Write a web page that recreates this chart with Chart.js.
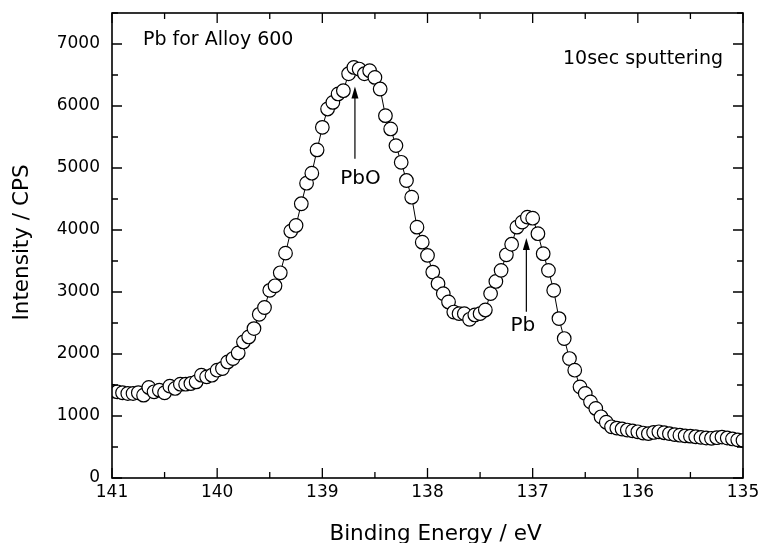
<!DOCTYPE html>
<html>
<head>
<meta charset="utf-8">
<script src="https://cdn.jsdelivr.net/npm/chart.js@4/dist/chart.umd.min.js"></script>
<style>
  html, body { margin: 0; padding: 0; background: #fff; }
  #wrap { width: 760px; height: 543px; }
</style>
</head>
<body>
<div id="wrap"><canvas id="c" width="760" height="543"></canvas></div>
<script>
// Binding energy (eV), 0.05 eV step, 141.00 -> 135.00
const energies = [
  141.00,140.95,140.90,140.85,140.80,140.75,140.70,140.65,140.60,140.55,
  140.50,140.45,140.40,140.35,140.30,140.25,140.20,140.15,140.10,140.05,
  140.00,139.95,139.90,139.85,139.80,139.75,139.70,139.65,139.60,139.55,
  139.50,139.45,139.40,139.35,139.30,139.25,139.20,139.15,139.10,139.05,
  139.00,138.95,138.90,138.85,138.80,138.75,138.70,138.65,138.60,138.55,
  138.50,138.45,138.40,138.35,138.30,138.25,138.20,138.15,138.10,138.05,
  138.00,137.95,137.90,137.85,137.80,137.75,137.70,137.65,137.60,137.55,
  137.50,137.45,137.40,137.35,137.30,137.25,137.20,137.15,137.10,137.05,
  137.00,136.95,136.90,136.85,136.80,136.75,136.70,136.65,136.60,136.55,
  136.50,136.45,136.40,136.35,136.30,136.25,136.20,136.15,136.10,136.05,
  136.00,135.95,135.90,135.85,135.80,135.75,135.70,135.65,135.60,135.55,
  135.50,135.45,135.40,135.35,135.30,135.25,135.20,135.15,135.10,135.05,
  135.00
];
// Intensity (CPS)
const intensity = [
  1400,1390,1375,1363,1363,1375,1336,1460,1390,1417,
  1375,1481,1444,1513,1513,1524,1550,1658,1631,1658,
  1739,1766,1872,1927,2017,2194,2275,2410,2640,2750,
  3027,3100,3310,3627,3982,4073,4423,4755,4916,5292,
  5656,5952,6058,6194,6247,6520,6622,6596,6520,6569,
  6461,6274,5844,5630,5361,5092,4798,4529,4046,3804,
  3590,3321,3135,2974,2839,2677,2651,2651,2560,2630,
  2651,2710,2974,3170,3349,3600,3770,4046,4127,4207,
  4190,3940,3618,3349,3027,2571,2249,1927,1739,1470,
  1364,1228,1122,987,900,826,805,790,773,760,
  745,725,715,735,745,730,715,700,690,680,
  675,665,655,645,640,650,660,645,630,615,
  605
];
const xTickValues = [141, 140, 139, 138, 137, 136, 135];
const yTickValues = [0, 1000, 2000, 3000, 4000, 5000, 6000, 7000];

const titleText = 'Pb for Alloy 600';
const conditionText = '10sec sputtering';
const xTitle = 'Binding Energy / eV';
const yTitle = 'Intensity / CPS';

// peak markers: label, arrow energy, arrow base/tip intensity, label position (data units)
const peakLabels = ['PbO', 'Pb'];
const peakArrowE = [138.69, 137.06];
const peakArrowFrom = [5150, 2680];
const peakArrowTo = [6316, 3870];
const peakLabelE = [138.637, 137.094];
const peakLabelY = [4745, 2367];

const FONT = "'DejaVu Sans', 'Liberation Sans', Arial, sans-serif";

const framePlugin = {
  id: 'framePlugin',
  afterDatasetsDraw(chart) {
    const { ctx, chartArea: a, scales } = chart;
    const xs = scales.x, ys = scales.y;
    ctx.save();
    // frame
    ctx.strokeStyle = '#000';
    ctx.lineWidth = 1.6;
    ctx.strokeRect(a.left, a.top, a.right - a.left, a.bottom - a.top);
    // inward ticks on all four sides
    ctx.lineWidth = 1.3;
    ctx.beginPath();
    const xt = xs.ticks.map(t => t.value).sort((p, q) => p - q);
    const yt = ys.ticks.map(t => t.value).sort((p, q) => p - q);
    const major = 10, minor = 6;
    const xMarks = [];
    xt.forEach((v, i) => {
      xMarks.push([v, major]);
      if (i < xt.length - 1) xMarks.push([(v + xt[i + 1]) / 2, minor]);
    });
    const yMarks = [];
    yt.forEach((v, i) => {
      yMarks.push([v, major]);
      if (i < yt.length - 1) yMarks.push([(v + yt[i + 1]) / 2, minor]);
    });
    const lastY = yt[yt.length - 1];
    const step = yt[1] - yt[0];
    if (lastY + step / 2 <= ys.max + 1e-6) yMarks.push([lastY + step / 2, minor]);
    xMarks.forEach(([v, len]) => {
      const px = xs.getPixelForValue(v);
      ctx.moveTo(px, a.bottom); ctx.lineTo(px, a.bottom - len);
      ctx.moveTo(px, a.top); ctx.lineTo(px, a.top + len);
    });
    yMarks.forEach(([v, len]) => {
      const py = ys.getPixelForValue(v);
      ctx.moveTo(a.left, py); ctx.lineTo(a.left + len, py);
      ctx.moveTo(a.right, py); ctx.lineTo(a.right - len, py);
    });
    ctx.stroke();

    // texts
    ctx.fillStyle = '#000';
    ctx.textBaseline = 'alphabetic';
    ctx.font = '19px ' + FONT;
    ctx.textAlign = 'left';
    ctx.fillText(titleText, a.left + 31, a.top + 32);
    ctx.textAlign = 'right';
    ctx.fillText(conditionText, a.right - 20, a.top + 51);

    // peak labels and arrows
    ctx.font = '20px ' + FONT;
    ctx.textAlign = 'center';
    ctx.lineWidth = 1.2;
    for (let i = 0; i < peakLabels.length; i++) {
      const lx = xs.getPixelForValue(peakLabelE[i]);
      const ly = ys.getPixelForValue(peakLabelY[i]);
      ctx.fillText(peakLabels[i], lx, ly);
      const ax = xs.getPixelForValue(peakArrowE[i]);
      const y0 = ys.getPixelForValue(peakArrowFrom[i]);
      const y1 = ys.getPixelForValue(peakArrowTo[i]);
      ctx.beginPath();
      ctx.moveTo(ax, y0); ctx.lineTo(ax, y1 + 8);
      ctx.stroke();
      ctx.beginPath();
      ctx.moveTo(ax, y1);
      ctx.lineTo(ax - 3.5, y1 + 12);
      ctx.lineTo(ax + 3.5, y1 + 12);
      ctx.closePath();
      ctx.fill();
    }

    // axis titles
    ctx.font = '21.5px ' + FONT;
    ctx.textAlign = 'center';
    ctx.fillText(xTitle, (a.left + a.right) / 2 + 8, 540);
    ctx.save();
    ctx.translate(28, (a.top + a.bottom) / 2 - 3);
    ctx.rotate(-Math.PI / 2);
    ctx.fillText(yTitle, 0, 0);
    ctx.restore();
    ctx.restore();
  }
};

const points = energies.map((e, i) => ({ x: e, y: intensity[i] }));

new Chart(document.getElementById('c'), {
  type: 'line',
  data: {
    datasets: [{
      label: 'Pb 4f',
      data: points,
      borderColor: '#000',
      borderWidth: 1,
      pointRadius: 6.8,
      pointHoverRadius: 6.8,
      pointBackgroundColor: '#fff',
      pointBorderColor: '#000',
      pointBorderWidth: 1.2,
      tension: 0,
      clip: 0
    }]
  },
  options: {
    responsive: false,
    animation: false,
    devicePixelRatio: 1,
    layout: { padding: { top: 13, right: 17, left: 0, bottom: 0 } },
    plugins: { legend: { display: false }, tooltip: { enabled: false } },
    scales: {
      x: {
        type: 'linear',
        reverse: true,
        min: 135,
        max: 141,
        afterBuildTicks: s => { s.ticks = xTickValues.map(v => ({ value: v })); },
        afterFit: s => { s.height = 65; s.paddingLeft = 0; s.paddingRight = 0; s.paddingTop = 0; s.paddingBottom = 0; },
        grid: { display: false, drawTicks: false },
        border: { display: false },
        ticks: {
          color: '#000',
          font: { family: FONT, size: 17 },
          padding: 4,
          maxRotation: 0,
          callback: v => String(v)
        }
      },
      y: {
        type: 'linear',
        min: 0,
        max: 7500,
        afterBuildTicks: s => { s.ticks = yTickValues.map(v => ({ value: v })); },
        afterFit: s => { s.width = 112; s.paddingTop = 0; s.paddingBottom = 0; s.paddingLeft = 0; s.paddingRight = 0; },
        grid: { display: false, drawTicks: false },
        border: { display: false },
        ticks: {
          color: '#000',
          font: { family: FONT, size: 17 },
          padding: 12,
          callback: v => String(v)
        }
      }
    }
  },
  plugins: [framePlugin]
});
</script>
</body>
</html>
